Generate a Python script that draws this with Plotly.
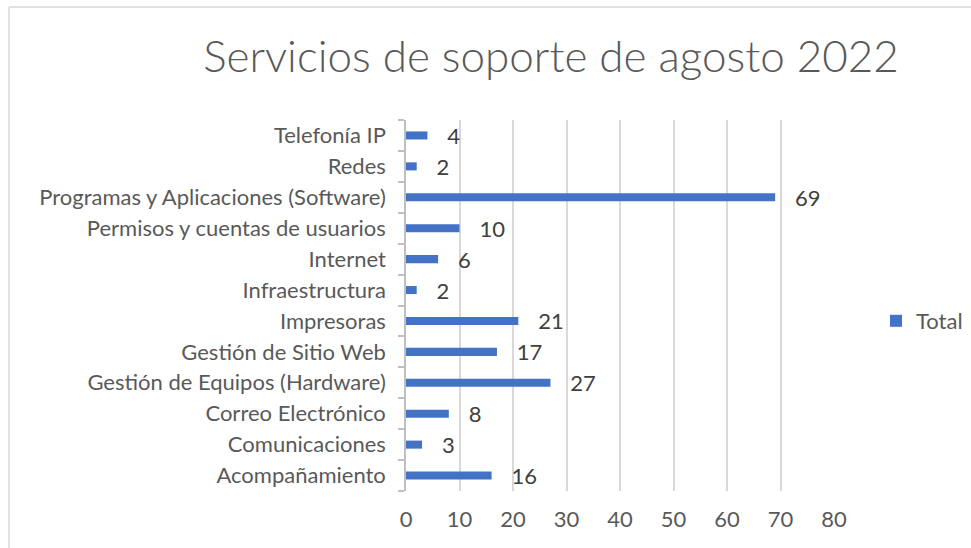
import plotly.graph_objects as go

categories = [
    "Acompañamiento",
    "Comunicaciones",
    "Correo Electrónico",
    "Gestión de Equipos (Hardware)",
    "Gestión de Sitio Web",
    "Impresoras",
    "Infraestructura",
    "Internet",
    "Permisos y cuentas de usuarios",
    "Programas y Aplicaciones (Software)",
    "Redes",
    "Telefonía IP",
]
totals = [16, 3, 8, 27, 17, 21, 2, 6, 10, 69, 2, 4]
x_ticks = [0, 10, 20, 30, 40, 50, 60, 70, 80]
title_text = "Servicios de soporte de agosto 2022"
series_name = "Total"

FONT = "Lato"
FS = 22
W, H = 971, 548
ML, MR, MT, MB = 406, 137, 120, 57
pw = W - ML - MR
ph = H - MT - MB

fig = go.Figure()
fig.add_trace(go.Bar(
    y=categories,
    x=totals,
    orientation="h",
    name=series_name,
    marker=dict(color="#4472C4", line=dict(width=0)),
    width=0.26,
    text=["\u00a0\u00a0\u00a0" + str(v) for v in totals],
    textposition="outside",
    constraintext="none",
    textfont=dict(family=FONT, size=FS, color="#404040"),
    cliponaxis=False,
))

fig.update_layout(
    width=W, height=H,
    margin=dict(l=ML, r=MR, t=MT, b=MB, autoexpand=False),
    paper_bgcolor="white",
    plot_bgcolor="white",
    font=dict(family=FONT, color="#595959"),
    title=dict(
        text=title_text,
        font=dict(family=FONT, size=44, color="#595959", weight=300),
        x=551 / W, xanchor="center",
        y=1 - 57 / H, yanchor="middle",
        automargin=False,
    ),
    showlegend=True,
    legend=dict(
        x=(876 - ML) / pw, xanchor="left",
        y=(H - MB - 321) / ph, yanchor="middle",
        font=dict(family=FONT, size=FS, color="#595959"),
        itemwidth=30,
        bgcolor="rgba(0,0,0,0)",
    ),
    bargap=0.7,
)

fig.update_xaxes(
    range=[0, 80],
    tickvals=x_ticks,
    showgrid=True, gridcolor="#d9d9d9", gridwidth=1.5,
    zeroline=False,
    showline=False,
    ticks="",
    ticklabelstandoff=13,
    tickfont=dict(family=FONT, size=FS, color="#595959"),
    automargin=False,
    fixedrange=True,
)
fig.update_yaxes(
    type="category",
    categoryorder="array", categoryarray=categories,
    showgrid=False,
    showline=True, linecolor="#bfbfbf", linewidth=1.5,
    ticks="outside", tickson="boundaries", ticklen=6, tickcolor="#bfbfbf", tickwidth=1.5,
    ticklabelstandoff=14,
    tickfont=dict(family=FONT, size=FS, color="#595959"),
    automargin=False,
    fixedrange=True,
)

# chart frame (top and left edges visible)
x_left = (9 - ML) / pw
y_top = (H - MB - 7) / ph
x_right = (W + 5 - ML) / pw
y_bot = (H - MB - (H + 5)) / ph
fig.add_shape(type="line", xref="paper", yref="paper",
              x0=x_left, x1=x_right, y0=y_top, y1=y_top,
              line=dict(color="#d9d9d9", width=1.5))
fig.add_shape(type="line", xref="paper", yref="paper",
              x0=x_left, x1=x_left, y0=y_top, y1=y_bot,
              line=dict(color="#d9d9d9", width=1.5))

fig.write_html(
    "out.html",
    config={"displayModeBar": False},
    post_script="document.body.style.margin='0';document.body.style.overflow='hidden';",
)
